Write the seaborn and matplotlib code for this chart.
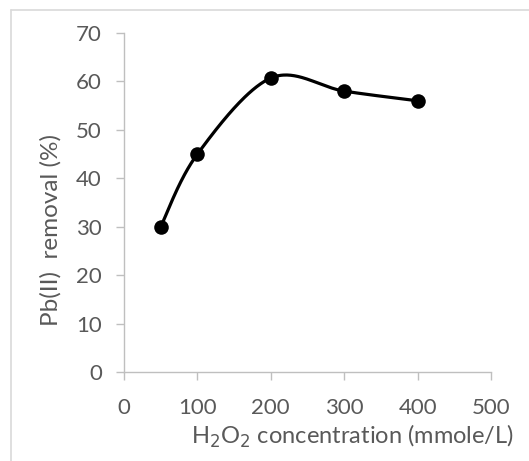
import numpy as np
import pandas as pd
import matplotlib
matplotlib.use("Agg")
import matplotlib.pyplot as plt
from matplotlib.lines import Line2D
import seaborn as sns

# H2O2 dose vs. Pb(II) removal
concentration = [50, 100, 200, 300, 400]
removal = [30.0, 45.0, 60.7, 58.0, 56.0]
x_ticks = [0, 100, 200, 300, 400, 500]
y_ticks = [0, 10, 20, 30, 40, 50, 60, 70]

sns.set_theme(style="white")
plt.rcParams["font.family"] = ["Lato", "DejaVu Sans"]

W, H = 529, 461
fig = plt.figure(figsize=(W / 100, H / 100), dpi=100)
ax = fig.add_axes([124 / W, 1 - 372 / H, (491 - 124) / W, (372 - 33) / H])


def smooth_curve(xs, ys, n=60):
    """Cardinal-spline smoothing through the points (Bezier segments)."""
    p = np.column_stack([xs, ys]).astype(float)
    out = []
    for i in range(len(p) - 1):
        p0 = p[i - 1] if i > 0 else p[i]
        p3 = p[i + 2] if i + 2 < len(p) else p[i + 1]
        c1 = p[i] + (p[i + 1] - p0) / 6.0
        c2 = p[i + 1] - (p3 - p[i]) / 6.0
        t = np.linspace(0, 1, n)[:, None]
        seg = ((1 - t) ** 3) * p[i] + 3 * ((1 - t) ** 2) * t * c1 \
            + 3 * (1 - t) * t ** 2 * c2 + t ** 3 * p[i + 1]
        out.append(seg if i == 0 else seg[1:])
    return np.vstack(out)


curve = smooth_curve(concentration, removal)
curve_df = pd.DataFrame({"x": curve[:, 0], "y": curve[:, 1]})
pts_df = pd.DataFrame({"x": concentration, "y": removal})

sns.lineplot(data=curve_df, x="x", y="y", sort=False, color="black",
             linewidth=2.3, ax=ax, zorder=2)
sns.scatterplot(data=pts_df, x="x", y="y", color="black", s=110,
                edgecolor="black", linewidth=0, ax=ax, zorder=3)

ax.set_xlim(0, 500)
ax.set_ylim(0, 70)
ax.set_xticks(x_ticks)
ax.set_yticks(y_ticks)
ax.set_xlabel("")
ax.set_ylabel("")

axis_col = "#bfbfbf"
for side in ["top", "right"]:
    ax.spines[side].set_visible(False)
for side in ["left", "bottom"]:
    ax.spines[side].set_color(axis_col)
    ax.spines[side].set_linewidth(1.0)
ax.tick_params(axis="both", which="major", direction="out", length=6,
               width=1.0, color=axis_col, labelcolor="#595959",
               labelsize=16, left=True, bottom=True)
ax.tick_params(axis="x", pad=13)
ax.tick_params(axis="y", pad=10)

fig.text(51 / W, 1 - 230 / H, "Pb(II)  removal (%)", rotation=90,
         ha="center", va="center", fontsize=17.5, color="#595959")
fig.text(514 / W, 1 - 436 / H, "H$_2$O$_2$ concentration (mmole/L)",
         ha="right", va="center", fontsize=17, color="#595959")

# chart frame (top and left edges)
border = "#d9d9d9"
fig.add_artist(Line2D([11 / W, 11 / W], [0, 1 - 10 / H], color=border,
                      linewidth=1.2, transform=fig.transFigure))
fig.add_artist(Line2D([11 / W, 1], [1 - 10 / H, 1 - 10 / H], color=border,
                      linewidth=1.2, transform=fig.transFigure))

fig.savefig("out.png", dpi=100, facecolor="white")
